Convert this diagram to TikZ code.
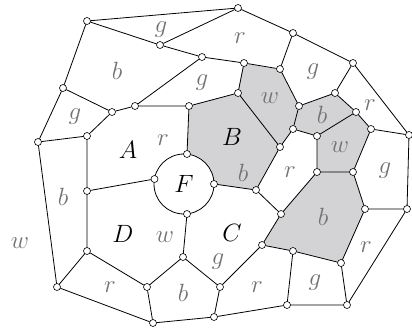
\RequirePackage{fix-cm}
\documentclass[tikz,border=0pt]{standalone}
\usetikzlibrary{backgrounds}
\definecolor{facegray}{rgb}{0.827,0.827,0.835}
\definecolor{lblgray}{rgb}{0.45,0.45,0.45}
\tikzset{
  vtx/.style={circle,draw,fill=white,line width=0.6pt,inner sep=0pt,minimum size=7pt},
  edge/.style={line width=0.8pt},
  clr/.style={text=lblgray,font=\fontsize{25}{25}\selectfont,inner sep=0pt},
  ctry/.style={font=\fontsize{25}{25}\selectfont,inner sep=0pt},
}

\begin{document}
\begin{tikzpicture}[x=1pt,y=-1pt,line cap=round,line join=round]
  \useasboundingbox (0,0) rectangle (412,330);
  \coordinate (fc) at (184,184);
  \node[vtx] (p1) at (87,21) {};
  \node[vtx] (p2) at (160,45) {};
  \node[vtx] (p3) at (202,57) {};
  \node[vtx] (p4) at (63,88) {};
  \node[vtx] (p5) at (112,112) {};
  \node[vtx] (p6) at (135,106) {};
  \node[vtx] (p7) at (189,106) {};
  \node[vtx] (p8) at (38,142) {};
  \node[vtx] (p9) at (87,136) {};
  \node[vtx] (p10) at (238,8) {};
  \node[vtx] (p11) at (293,33) {};
  \node[vtx] (p12) at (353,63) {};
  \node[vtx] (p13) at (244,63) {};
  \node[vtx] (p14) at (280,69) {};
  \node[vtx] (p15) at (238,93) {};
  \node[vtx] (p16) at (335,93) {};
  \node[vtx] (p17) at (299,106) {};
  \node[vtx] (p18) at (356,112) {};
  \node[vtx] (p19) at (293,129) {};
  \node[vtx] (p20) at (317,136) {};
  \node[vtx] (p21) at (371,129) {};
  \node[vtx] (p22) at (409,135) {};
  \node[vtx] (p23) at (280,147) {};
  \node[vtx] (p24) at (317,172) {};
  \node[vtx] (p25) at (353,172) {};
  \node[vtx] (p26) at (365,209) {};
  \node[vtx] (p27) at (407,209) {};
  \node[vtx] (p28) at (256,190) {};
  \node[vtx] (p29) at (281,214) {};
  \node[vtx] (p30) at (262,245) {};
  \node[vtx] (p31) at (293,251) {};
  \node[vtx] (p32) at (341,263) {};
  \node[vtx] (p33) at (220,287) {};
  \node[vtx] (p34) at (287,305) {};
  \node[vtx] (p35) at (347,305) {};
  \node[vtx] (p36) at (214,317) {};
  \node[vtx] (p37) at (87,191) {};
  \node[vtx] (p38) at (183,257) {};
  \node[vtx] (p39) at (87,251) {};
  \node[vtx] (p40) at (57,287) {};
  \node[vtx] (p41) at (147,287) {};
  \node[vtx] (p42) at (153,323) {};
  \node[vtx] (ft) at (187,154) {};
  \node[vtx] (fr) at (214,184) {};
  \node[vtx] (fb) at (187,214) {};
  \node[vtx] (fl) at (154.5,179) {};

  \draw[edge] (p1) -- (p10) -- (p2) -- (p1);
  \draw[edge] (p2) -- (p3) -- (p6) -- (p5) -- (p4) -- (p1);
  \draw[edge] (p6) -- (p7) -- (ft);
  \draw[edge] (p3) -- (p13) -- (p15) -- (p7);
  \draw[edge] (p10) -- (p11) -- (p12) -- (p22);
  \draw[edge] (p11) -- (p14) -- (p13);
  \draw[edge] (p14) -- (p17) -- (p16) -- (p12);
  \draw[edge] (p16) -- (p18) -- (p21) -- (p22);
  \draw[edge] (p17) -- (p19) -- (p20) -- (p18);
  \draw[edge] (p15) -- (p23) -- (p19);
  \draw[edge] (p20) -- (p24) -- (p25) -- (p21);
  \draw[edge] (p25) -- (p26) -- (p27) -- (p22);
  \draw[edge] (p23) -- (p28) -- (fr);
  \draw[edge] (p28) -- (p29) -- (p24);
  \draw[edge] (p29) -- (p30) -- (p31) -- (p32) -- (p26);
  \draw[edge] (p31) -- (p34) -- (p35) -- (p32);
  \draw[edge] (p35) -- (p27);
  \draw[edge] (p30) -- (p33) -- (p36) -- (p34);
  \draw[edge] (p4) -- (p8) -- (p9) -- (p5);
  \draw[edge] (p9) -- (p37) -- (p39) -- (p40) -- (p8);
  \draw[edge] (p37) -- (fl);
  \draw[edge] (p39) -- (p41) -- (p42) -- (p40);
  \draw[edge] (p42) -- (p36);
  \draw[edge] (fb) -- (p38) -- (p41);
  \draw[edge] (p38) -- (p33);

  \begin{scope}[on background layer]
    \fill[facegray] (p7.center) -- (p15.center) -- (p23.center) -- (p28.center) -- (fr.center) -- (ft.center) -- cycle;
    \fill[facegray] (p13.center) -- (p14.center) -- (p17.center) -- (p19.center) -- (p23.center) -- (p15.center) -- cycle;
    \fill[facegray] (p17.center) -- (p16.center) -- (p18.center) -- (p20.center) -- (p19.center) -- cycle;
    \fill[facegray] (p20.center) -- (p18.center) -- (p21.center) -- (p25.center) -- (p24.center) -- cycle;
    \fill[facegray] (p24.center) -- (p25.center) -- (p26.center) -- (p32.center) -- (p31.center) -- (p30.center) -- (p29.center) -- cycle;
    \fill[white] (fc) circle (30);
    \draw[edge] (fc) circle (30);
  \end{scope}

  \node[clr] (l1) at (161,30) {$g$};
  \node[clr] (l2) at (240,38) {$r$};
  \node[clr] (l3) at (313,72) {$g$};
  \node[clr] (l4) at (117,71) {$b$};
  \node[clr] (l5) at (202,83) {$g$};
  \node[clr] (l6) at (75,117) {$g$};
  \node[clr] (l7) at (163,140) {$r$};
  \node[clr] (l8) at (270,98) {$w$};
  \node[clr] (l9) at (322,115) {$b$};
  \node[clr] (l10) at (370,105) {$r$};
  \node[clr] (l11) at (340,147) {$w$};
  \node[clr] (l12) at (385,171) {$g$};
  \node[clr] (l13) at (243,173) {$b$};
  \node[clr] (l14) at (290,172) {$r$};
  \node[clr] (l15) at (323,217) {$b$};
  \node[clr] (l16) at (218,262) {$g$};
  \node[clr] (l17) at (257,287) {$r$};
  \node[clr] (l18) at (315,283) {$g$};
  \node[clr] (l19) at (366,247) {$r$};
  \node[clr] (l20) at (63,197) {$b$};
  \node[clr] (l21) at (20,243) {$w$};
  \node[clr] (l22) at (165,237) {$w$};
  \node[clr] (l23) at (110,287) {$r$};
  \node[clr] (l24) at (183,293) {$b$};
  \node[ctry] (cA) at (128,150) {$A$};
  \node[ctry] (cB) at (232,137) {$B$};
  \node[ctry] (cC) at (232,233) {$C$};
  \node[ctry] (cD) at (123,234) {$D$};
  \node[ctry] (cF) at (184,184) {$F$};
\end{tikzpicture}
\end{document}
